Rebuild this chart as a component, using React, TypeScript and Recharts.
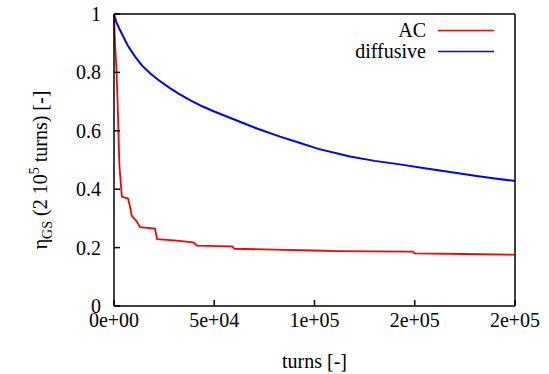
import { LineChart, Line, XAxis, YAxis, Legend } from "recharts"

const acTurns = [0, 500, 1300, 2000, 2700, 3500, 3900, 5000, 7000, 7200, 8000, 8800, 11300, 13000, 20400, 21500, 30000, 39500, 41400, 52000, 59000, 60000, 80000, 100000, 111000, 149000, 150000, 175000, 200000]
const acEta = [1.0, 0.9, 0.8, 0.65, 0.48, 0.41, 0.375, 0.372, 0.368, 0.363, 0.34, 0.31, 0.29, 0.27, 0.265, 0.229, 0.225, 0.218, 0.207, 0.205, 0.204, 0.196, 0.193, 0.19, 0.188, 0.186, 0.18, 0.178, 0.176]

const diffTurns = [0, 1000, 2500, 4650, 7000, 10500, 14000, 18000, 22000, 27900, 32000, 37900, 44000, 50000, 62800, 72000, 82800, 92800, 101900, 117700, 130000, 142600, 155000, 167600, 180000, 190000, 200000]
const diffEta = [1.0, 0.975, 0.952, 0.922, 0.89, 0.854, 0.823, 0.797, 0.775, 0.746, 0.728, 0.705, 0.684, 0.666, 0.631, 0.606, 0.58, 0.558, 0.538, 0.512, 0.497, 0.485, 0.472, 0.459, 0.446, 0.437, 0.428]

const xTicks = [0, 50000, 100000, 150000, 200000]
const xTickLabels = ["0e+00", "5e+04", "1e+05", "2e+05", "2e+05"]
const yTicks = [0, 0.2, 0.4, 0.6, 0.8, 1]
const yTickLabels = ["0", "0.2", "0.4", "0.6", "0.8", "1"]

const acData = acTurns.map((t, i) => ({ turns: t, eta: acEta[i] }))
const diffData = diffTurns.map((t, i) => ({ turns: t, eta: diffEta[i] }))

const font = "Liberation Serif"

const XTick = (props: any) => {
    const { x, y, payload } = props
    return (
        <text x={x} y={y + 14} textAnchor="middle" fontFamily={font} fontSize={20} fill="#000">
            {xTickLabels[xTicks.indexOf(payload.value)]}
        </text>
    )
}

const YTick = (props: any) => {
    const { x, y, payload } = props
    return (
        <text x={x} y={y + 7} textAnchor="end" fontFamily={font} fontSize={20} fill="#000">
            {yTickLabels[yTicks.indexOf(payload.value)]}
        </text>
    )
}

const XLabel = (props: any) => {
    const vb = props.viewBox || { x: 114, y: 306, width: 401, height: 68 }
    return (
        <text x={vb.x + vb.width / 2} y={vb.y + 62} textAnchor="middle" fontFamily={font} fontSize={20} fill="#000">
            turns [-]
        </text>
    )
}

const YLabel = (props: any) => {
    const vb = props.viewBox || { x: 0, y: 14, width: 114, height: 292 }
    const cx = 47
    const cy = vb.y + vb.height / 2 + 10
    return (
        <text x={cx} y={cy} transform={`rotate(-90, ${cx}, ${cy})`} textAnchor="middle" fontFamily={font} fontSize={20} fill="#000">
            η<tspan fontSize={14} dy={5}>GS</tspan>
            <tspan dy={-5}> (2 10</tspan>
            <tspan fontSize={14} dy={-8}>5</tspan>
            <tspan dy={8}> turns) [-]</tspan>
        </text>
    )
}

const LegendBox = () => (
    <div style={{ fontFamily: "'Liberation Serif', serif", fontSize: 20, color: "#000", lineHeight: "21px" }}>
        {[
            { name: "AC", color: "#ff0000" },
            { name: "diffusive", color: "#0000ff" },
        ].map((e) => (
            <div key={e.name} style={{ display: "flex", alignItems: "center", justifyContent: "flex-end", height: 21 }}>
                <span>{e.name}</span>
                <svg width={56} height={21} style={{ marginLeft: 12 }}>
                    <line x1={0} y1={10.5} x2={56} y2={10.5} stroke={e.color} strokeWidth={1.5} />
                </svg>
            </div>
        ))}
    </div>
)

export default function App() {
    return (
        <div style={{ position: "absolute", left: 0, top: 0 }}>
            <LineChart width={549} height={374} margin={{ top: 0, right: 0, bottom: 0, left: 0 }}>
                <XAxis
                    xAxisId="bottom"
                    dataKey="turns"
                    type="number"
                    domain={[0, 200000]}
                    ticks={xTicks}
                    height={68}
                    tickSize={-6}
                    tickMargin={13}
                    tick={<XTick />}
                    stroke="#000"
                    strokeWidth={1.5}
                    label={<XLabel />}
                />
                <XAxis
                    xAxisId="top"
                    orientation="top"
                    type="number"
                    domain={[0, 200000]}
                    ticks={xTicks}
                    tickFormatter={() => ""}
                    height={14}
                    tickSize={-6}
                    stroke="#000"
                    strokeWidth={1.5}
                />
                <YAxis
                    yAxisId="left"
                    type="number"
                    domain={[0, 1]}
                    ticks={yTicks}
                    width={114}
                    tickSize={-6}
                    tickMargin={19}
                    tick={<YTick />}
                    stroke="#000"
                    strokeWidth={1.5}
                    label={<YLabel />}
                />
                <YAxis
                    yAxisId="right"
                    orientation="right"
                    type="number"
                    domain={[0, 1]}
                    ticks={yTicks}
                    tickFormatter={() => ""}
                    width={34}
                    tickSize={-6}
                    stroke="#000"
                    strokeWidth={1.5}
                />
                <Legend
                    layout="horizontal"
                    verticalAlign="middle"
                    align="center"
                    content={<LegendBox />}
                    wrapperStyle={{ position: "absolute", top: 20, left: 294, width: 200 }}
                />
                <Line
                    xAxisId="bottom"
                    yAxisId="left"
                    data={acData}
                    dataKey="eta"
                    name="AC"
                    type="linear"
                    stroke="#ff0000"
                    strokeWidth={1.8}
                    dot={false}
                    isAnimationActive={false}
                />
                <Line
                    xAxisId="bottom"
                    yAxisId="left"
                    data={diffData}
                    dataKey="eta"
                    name="diffusive"
                    type="linear"
                    stroke="#0000ff"
                    strokeWidth={2}
                    dot={false}
                    isAnimationActive={false}
                />
            </LineChart>
        </div>
    )
}
